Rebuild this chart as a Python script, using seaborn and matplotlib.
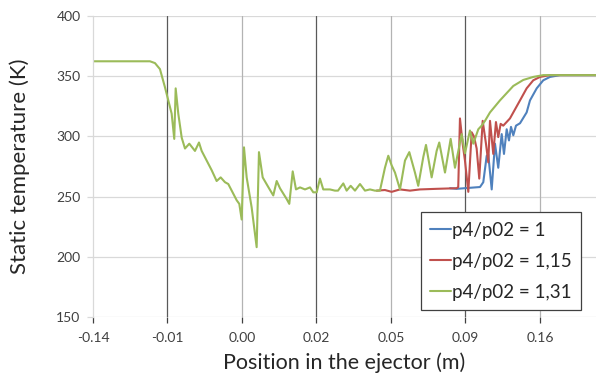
import pandas as pd
import matplotlib.pyplot as plt
import seaborn as sns

# ── Data (x in tick-slot units: tick i sits at x = i) ─────────────────────────
tick_labels = ['-0.14', '-0.01', '0.00', '0.02', '0.05', '0.09', '0.16']

x_131 = [0.000, 0.765, 0.832, 0.899, 0.966, 1.011, 1.056, 1.091, 1.110, 1.145,
         1.191, 1.235, 1.293, 1.369, 1.423, 1.459, 1.526, 1.593, 1.660, 1.714,
         1.772, 1.816, 1.862, 1.929, 1.964, 1.996, 2.027, 2.063, 2.130, 2.197,
         2.228, 2.278, 2.353, 2.420, 2.466, 2.510, 2.600, 2.635, 2.681, 2.725,
         2.779, 2.846, 2.913, 2.957, 3.003, 3.047, 3.091, 3.181, 3.248, 3.289,
         3.360, 3.405, 3.459, 3.517, 3.584, 3.651, 3.718, 3.785, 3.852, 3.919,
         3.964, 4.009, 4.054, 4.121, 4.188, 4.246, 4.322, 4.366, 4.434, 4.470,
         4.546, 4.613, 4.648, 4.725, 4.801, 4.859, 4.949, 4.993, 5.060, 5.105,
         5.172, 5.217, 5.262, 5.329, 5.463, 5.642, 5.776, 5.910, 6.044, 6.752]
t_131 = [362.5, 362.5, 361, 356, 341, 330, 319, 298, 340, 319,
         299, 290, 294, 288, 295, 288, 280, 272, 263, 266,
         262, 260.5, 255, 247, 244, 231, 291, 266, 241, 208,
         287, 266, 258, 251, 263, 257, 248, 244, 271, 256,
         257.7, 256, 257.7, 253.6, 253.6, 265, 256, 256, 255, 255,
         261, 255, 259, 255, 260.5, 255, 256, 255, 255, 274,
         284, 276, 270, 256, 280, 287, 270, 259, 283, 293,
         266, 288, 295, 270, 298, 274, 302, 286, 305, 294,
         306, 309, 313, 320, 330, 342, 347, 349.5, 351, 351]

x_115 = [3.808, 3.919, 4.009, 4.121, 4.255, 4.389, 4.613, 4.882, 4.903, 4.926,
         4.962, 4.993, 5.038, 5.083, 5.114, 5.150, 5.185, 5.231, 5.275, 5.306,
         5.329, 5.373, 5.409, 5.440, 5.472, 5.507, 5.597, 5.732, 5.821, 5.910,
         6.000, 6.134, 6.752]
t_115 = [255, 255.5, 254, 256, 255, 256, 256.5, 257, 258, 315,
         294, 280, 254, 303.5, 300, 290, 265, 313, 294, 278.5,
         313, 285.5, 312, 299.5, 310.5, 309, 315, 330, 340, 346.7,
         349.5, 351, 351]

x_100 = [4.792, 4.882, 5.195, 5.239, 5.285, 5.306, 5.352, 5.396, 5.440, 5.486,
         5.517, 5.553, 5.584, 5.611, 5.642, 5.678, 5.732, 5.821, 5.866, 5.956,
         6.044, 6.134, 6.268, 6.752]
t_100 = [257, 256.5, 258, 262, 284, 285, 256, 294, 274, 302,
         285.5, 306, 296.7, 308, 301, 309, 311, 320, 330, 340,
         346.7, 349.5, 351, 351]

series = ['p4/p02 = 1', 'p4/p02 = 1,15', 'p4/p02 = 1,31']
colors = ['#4F81BD', '#C0504D', '#9BBB59']

df = pd.concat([
    pd.DataFrame({'x': x_100, 'T': t_100, 'case': series[0]}),
    pd.DataFrame({'x': x_115, 'T': t_115, 'case': series[1]}),
    pd.DataFrame({'x': x_131, 'T': t_131, 'case': series[2]}),
])

# ── Plot ──────────────────────────────────────────────────────────────────────
sns.set_theme(style='white')
plt.rcParams['font.family'] = ['Lato', 'DejaVu Sans']

fig = plt.figure(figsize=(5.96, 3.76), dpi=100)
ax = fig.add_axes([0.156, 0.157, 0.844, 0.80])

sns.lineplot(data=df, x='x', y='T', hue='case', hue_order=series,
             palette=dict(zip(series, colors)), sort=False, estimator=None,
             linewidth=1.5, ax=ax)

ax.set_xlim(0, 6.752)
ax.set_ylim(150, 400)
ax.set_yticks(range(150, 401, 50))
ax.set_xticks(range(len(tick_labels)))
ax.set_xticklabels(tick_labels)

# horizontal grid
for y in range(150, 401, 50):
    ax.axhline(y, color='#d9d9d9', lw=0.9, zorder=0)
# vertical lines alternate dark / light
vcol = ['#d9d9d9', '#595959', '#b3b3b3', '#595959', '#b3b3b3', '#595959', '#b3b3b3']
for i, c in enumerate(vcol):
    if i > 0:
        ax.axvline(i, color=c, lw=0.9, zorder=0)
for tick, c in zip(ax.xaxis.get_major_ticks(), vcol):
    tick.tick1line.set_color(c)

for s in ['top', 'right', 'bottom']:
    ax.spines[s].set_visible(False)
ax.spines['left'].set_color('#d9d9d9')
ax.spines['left'].set_linewidth(0.9)

ax.tick_params(axis='x', length=4, width=0.9, pad=7, labelsize=10, colors='#404040',
               bottom=True)
ax.tick_params(axis='y', length=4, width=0.9, color='#d9d9d9', pad=5, labelsize=10,
               labelcolor='#404040', left=True)

ax.set_xlabel('Position in the ejector (m)', fontsize=15.5, labelpad=6)
ax.set_ylabel('Static temperature (K)', fontsize=16, labelpad=19)

handles, labels = ax.get_legend_handles_labels()
leg = ax.legend(handles, labels, loc='lower left', bbox_to_anchor=(0.652, 0.023),
                borderaxespad=0, fontsize=13.5, frameon=True, fancybox=False,
                framealpha=1, edgecolor='#404040', handlelength=1.1,
                handletextpad=0.05, labelspacing=0.75, borderpad=0.5)
leg.get_frame().set_linewidth(0.9)

plt.savefig('out.png', dpi=100)
